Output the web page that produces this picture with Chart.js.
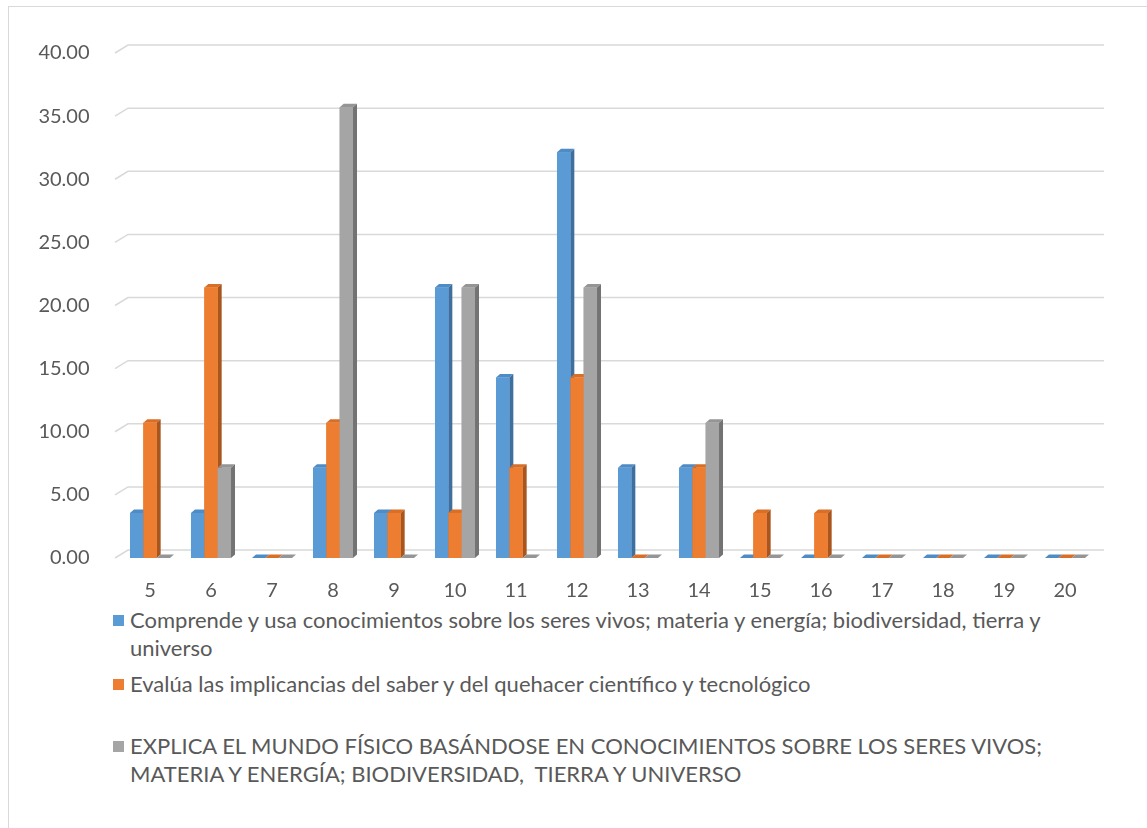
<!DOCTYPE html>
<html>
<head>
<meta charset="utf-8">
<script src="https://cdn.jsdelivr.net/npm/chart.js@4"></script>
<style>
  body { margin: 0; background: #fff; font-family: Lato, "Open Sans", sans-serif; }
  #frame { position: absolute; left: 8px; top: 6px; width: 1200px; height: 900px; border: 1.5px solid #d9d9d9; }
  #wrap { position: absolute; left: 0; top: 0; width: 1147px; height: 600px; }
  #legend { position: absolute; left: 113px; top: 606px; width: 975px; color: #595959; font-size: 22px; line-height: 28px; }
  .item { position: relative; padding-left: 17px; white-space: pre-wrap; }
  .item .sw { position: absolute; left: 0; top: 9px; width: 11px; height: 11px; }
</style>
</head>
<body>
<div id="frame"></div>
<div id="wrap"><canvas id="chart"></canvas></div>
<div id="legend"></div>
<script>
// categorías (eje x)
const categorias = ['5','6','7','8','9','10','11','12','13','14','15','16','17','18','19','20'];

// nombres de las series
const nombres = [
  'Comprende y usa conocimientos sobre los seres vivos; materia y energía; biodiversidad, tierra y universo',
  'Evalúa las implicancias del saber y del quehacer científico y tecnológico',
  'EXPLICA EL MUNDO FÍSICO BASÁNDOSE EN CONOCIMIENTOS SOBRE LOS SERES VIVOS; MATERIA Y ENERGÍA; BIODIVERSIDAD,  TIERRA Y UNIVERSO'
];

// valores de cada serie
const comprende = [3.57, 3.57, 0, 7.14, 3.57, 21.43, 14.29, 32.14, 7.14, 7.14, 0, 0, 0, 0, 0, 0];
const evalua    = [10.71, 21.43, 0, 10.71, 3.57, 3.57, 7.14, 14.29, 0, 7.14, 3.57, 3.57, 0, 0, 0, 0];
const explica   = [0, 7.14, 0, 35.71, 0, 21.43, 0, 21.43, 0, 10.71, 0, 0, 0, 0, 0, 0];

// colores: frente, arriba, lado
const colores = [
  ['#5B9BD5', '#4F8BC4', '#3E6F9E'],
  ['#ED7D31', '#D96F27', '#A8561E'],
  ['#A5A5A5', '#959595', '#737373']
];

const dx = 4, dy = 3.5;   // profundidad de las barras 3D
const gx = 13, gy = 8;    // profundidad de la pared del fondo

// líneas de la cuadrícula con el pequeño chaflán a la izquierda
const cuadricula = {
  id: 'cuadricula',
  beforeDatasetsDraw(chart) {
    const { ctx, chartArea, scales } = chart;
    ctx.save();
    ctx.strokeStyle = '#d9d9d9';
    ctx.lineWidth = 1.5;
    scales.y.ticks.forEach(t => {
      const y = scales.y.getPixelForValue(t.value);
      ctx.beginPath();
      ctx.moveTo(chartArea.left - 4.5, y);
      ctx.lineTo(chartArea.left - 4.5 + gx, y - gy);
      ctx.lineTo(chartArea.right + 8.5, y - gy);
      ctx.stroke();
    });
    ctx.restore();
  }
};

// caras superior y lateral de cada barra
const barras3d = {
  id: 'barras3d',
  afterDatasetsDraw(chart) {
    const ctx = chart.ctx;
    ctx.save();
    categorias.forEach((c, i) => {
      chart.data.datasets.forEach((ds, d) => {
        const el = chart.getDatasetMeta(d).data[i];
        const l = el.x - el.width / 2, r = el.x + el.width / 2;
        const y = el.y, b = el.base;
        ctx.fillStyle = colores[d][1];
        ctx.beginPath();
        ctx.moveTo(l, y); ctx.lineTo(l + dx, y - dy); ctx.lineTo(r + dx, y - dy); ctx.lineTo(r, y);
        ctx.closePath(); ctx.fill();
        ctx.fillStyle = colores[d][2];
        ctx.beginPath();
        ctx.moveTo(r, y); ctx.lineTo(r + dx, y - dy); ctx.lineTo(r + dx, b - dy); ctx.lineTo(r, b);
        ctx.closePath(); ctx.fill();
        ctx.fillStyle = colores[d][0];
        ctx.fillRect(l, y, r - l, b - y);
      });
    });
    ctx.restore();
  }
};

const series = [comprende, evalua, explica];

new Chart(document.getElementById('chart'), {
  type: 'bar',
  data: {
    labels: categorias,
    datasets: series.map((s, d) => ({
      label: nombres[d],
      data: s,
      backgroundColor: colores[d][0],
      categoryPercentage: 0.656,
      barPercentage: 1
    }))
  },
  options: {
    responsive: true,
    maintainAspectRatio: false,
    animation: false,
    layout: { padding: { top: 53, right: 51.5, left: 0, bottom: 0 } },
    plugins: { legend: { display: false }, tooltip: { enabled: false } },
    scales: {
      x: {
        grid: { display: false },
        border: { display: false },
        ticks: { color: '#595959', font: { family: 'Lato', size: 20 }, padding: 13, maxRotation: 0 },
        afterFit(s) { s.height = 42; }
      },
      y: {
        min: 0, max: 40,
        grid: { display: false },
        border: { display: false },
        ticks: {
          stepSize: 5, color: '#595959', font: { family: 'Lato', size: 20 }, padding: 22,
          callback: v => v.toFixed(2)
        },
        afterFit(s) { s.width = 119.5; }
      }
    }
  },
  plugins: [cuadricula, barras3d]
});

// leyenda en HTML
const leyenda = document.getElementById('legend');
const margenes = [0, 8, 34];
nombres.forEach((n, d) => {
  const div = document.createElement('div');
  div.className = 'item';
  div.style.marginTop = margenes[d] + 'px';
  div.innerHTML = '<span class="sw" style="background:' + colores[d][0] + '"></span>' + n;
  leyenda.appendChild(div);
});
</script>
</body>
</html>
